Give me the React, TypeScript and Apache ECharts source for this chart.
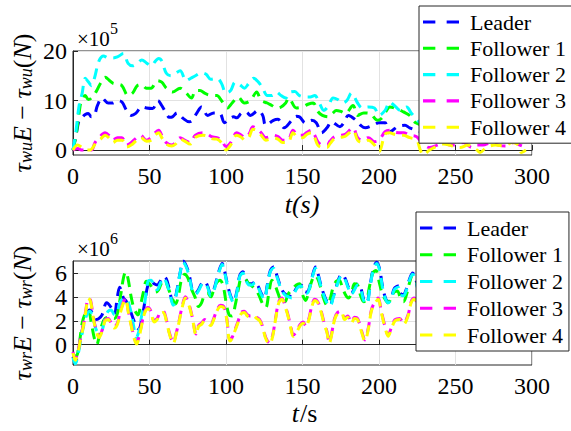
import React, { useEffect, useRef } from "react";
import * as echarts from "echarts";

const names = ["Leader", "Follower 1", "Follower 2", "Follower 3", "Follower 4"];
const colors = ["#0000ff", "#00ff00", "#00ffff", "#ff00ff", "#ffff00"];
const topYTicks = [0, 10, 20];
const botYTicks = [0, 2, 4, 6];

// Top panel (x10^5 N)
const topLeader = [[0,0],[2,3],[4,6],[6,6.6],[8,7.2],[10,7.4],[12,6.7],[14,7],[16,9],[19,10.5],[23,9.5],[26,9.5],[29,10],[32,9.7],[35,8],[38,7],[41,7.4],[45,8.7],[48,8.5],[52,8.4],[55.5,10],[58,9],[61,7.4],[63,6.6],[65,6.7],[68,7.5],[72,6.4],[76,5.7],[78,6],[81,7.5],[84,8.7],[88,7],[92,7.5],[96,7.4],[99,5.5],[102,6.2],[105,6.7],[107,6.5],[110,7.4],[113,7.7],[116,7],[121,8],[124,7],[126,5],[131,6],[134,6.2],[138,4.5],[143,6],[146,6.8],[148,6.7],[152,5.5],[156,6],[159,5.5],[162.5,3.5],[166,4.5],[169,5.7],[174.5,4.7],[177,5.5],[180,7],[185,6],[188,5],[191,4.5],[196,5],[200,5.5],[204,5.5],[206,3.5],[209,4],[212,4.7],[217,5],[220,4.5],[224.5,4],[230,3.5],[240,4],[250,3.5],[260,3],[270,3.5],[280,3],[290,3],[298,2.5]];
const topF1 = [[0,0],[2,3],[4,7.5],[5.5,10],[8,11],[10,10.2],[12,10.5],[15.5,12],[18,13.5],[21,14.7],[24,14],[26,13.5],[29,13.3],[32,13],[36,11],[39,11.5],[42,13],[45,13.2],[48,12.5],[51,12.5],[55,14],[58,13.7],[61,12.5],[65,11.7],[70,12.5],[74,11.5],[77.5,10.5],[80,12],[83,12],[86,11.5],[88,11.2],[91.5,11],[94,11],[97,10],[101,8.5],[104,9.5],[108,10.7],[112,9.5],[116,10],[120,11.7],[123,10],[127,9.5],[130,9],[133,8.5],[136,8.7],[139,9.5],[141,10.5],[146,8.5],[150,8.7],[154,9.3],[157,9.5],[160,7.8],[163,7],[167,6.7],[170,7.5],[172,8],[175,7.8],[178,7.4],[183,9],[186,7],[190,7.5],[194,7.4],[199,6],[202,6.5],[205,8],[207,8.7],[212,8.3],[216,7.7],[220,7],[224,5.5],[230,5],[240,5],[250,4.5],[260,5],[270,4],[280,4.5],[290,4],[298,3.5]];
const topF2 = [[0,0],[2,4],[4,9],[6,11.5],[8,14.5],[10,13.8],[12,13],[14,14.5],[17,18],[20,19],[23,18.6],[26,18.6],[29,18.8],[33,19.5],[36,17.5],[39,17],[42,17.5],[45,18.2],[48,17.6],[51,17],[54,18],[56,18.5],[58,18],[61,15.5],[64,15],[67,15.5],[70,16],[74,14],[77,14.5],[80,15],[84,15.6],[87,15.3],[90,14.3],[94,14.5],[97,13.5],[100,11.5],[103,12],[106,13.7],[109,13.2],[112,12.5],[115,13.5],[118,14.5],[121,13.8],[124,12.5],[127,11],[130,11],[133,11.7],[136,11],[139,10.5],[142,11.7],[145,11.8],[148,11],[152,10.7],[155,10.7],[158,11],[161,9.5],[164,8],[167,9],[170,10.5],[173,10.2],[176,9.5],[179,10],[182,11.5],[186,9.5],[189,8.5],[193,8.7],[197,8.5],[200,7],[204,8],[207,9.7],[210,9],[214,8],[218,8.7],[221,7.5],[224,6.4],[227,5.6],[235,6.5],[245,5.5],[255,6],[265,5],[275,5.5],[285,5],[295,4.5]];
const topF3 = [[0,0],[3,0.3],[6,0],[9,0],[12,0],[14.4,1.5],[17,2.5],[21,3.5],[24,2.8],[26,2],[29,2.5],[32,2.5],[35,1],[38,1.5],[41.6,2.5],[44,3],[48,2],[51,2.5],[53.6,3.5],[56,4],[58,3],[61,1.5],[64.5,1],[67,1.5],[70,2.5],[73,2],[76.5,1.5],[80,3],[85,3.5],[88,3.2],[90.6,2.7],[94,2.5],[97,2],[100,0.7],[103,1.5],[107,3.5],[110,3],[112.4,2.5],[115,3.2],[117.6,4.7],[120,4.3],[123,3.5],[126,2.5],[128.7,2.7],[131,3],[134,2.7],[137,2],[140.5,2],[143.8,4],[147,3],[150,3],[153,3.6],[156,4],[158,3],[160,1.7],[163,1],[166,1],[168,1.8],[171,2.7],[175.6,3],[178,3.2],[183,4.5],[186,2.5],[189,2],[193,2.5],[197,1.7],[200,2],[204,3.7],[207,4],[210,3.6],[213,3.5],[216,3.5],[220,3],[224.6,2.7],[228,1.5],[233,0.5],[238,1],[242,1.5],[246,1],[250,1],[255,1.5],[261,0.5],[264,1],[268,1],[273,1.5],[278,1],[283,0.8],[288,1.5],[292,1],[296,0.5]];
const topF4 = [[0,0],[3,1],[6,0.5],[9,0],[11,0],[15.5,1.7],[18,2.2],[21,3],[24,2.3],[26,1.5],[29,2],[32,2],[35,0.6],[38,1],[41.6,2],[44,2.6],[48,1.8],[51,2],[53.6,3],[56,3.5],[58,2.5],[61,1.2],[64.5,0.8],[67,1.2],[70,2.2],[73,1.8],[76.5,1.2],[80,2.6],[85,3],[88,2.8],[90.6,2.3],[94,2.2],[97,1.5],[100,0],[103,1],[107,3],[110,2.6],[112.4,2],[115,2.6],[117.6,4.2],[120,4],[123,3],[126,2],[128.7,2.2],[131,2.5],[134,2.2],[137,1.5],[140.5,1.5],[143.8,3.5],[147,2.5],[150,2.5],[153,3.2],[156,3.5],[158,2.5],[160,1],[163,0.5],[166,0.5],[168,1.3],[171,2.3],[175.6,2.6],[178,2.8],[183,4],[186,2],[189,1.5],[193,2],[197,1],[200,-0.3],[204,3.2],[207,3.5],[210,3.2],[213,3],[216,3],[220,2.5],[224.6,2],[227,0],[229,-1],[233,0],[238,0.8],[242,1.2],[246,1],[250,0.6],[253,0.5],[258,1],[264,0],[266,-0.5],[270,0.5],[276,1],[282,0.8],[287,1.5],[291,1],[293,-0.5],[296,0]];

// Bottom panel (x10^6 N)
const botLeader = [[0,-1],[1.5,-1.5],[3,-0.8],[5,0.5],[7,1.8],[9,2.6],[11,2.9],[13,2.6],[15,2.1],[17,2.2],[19,2.5],[22,3.5],[25,3.1],[27,2.6],[29,4],[30.5,4.8],[33,3.9],[35,3.6],[37,3],[39,2.3],[41.5,1.5],[43,1.3],[45,2.2],[47,3.6],[49,5],[51,5.3],[53,5.1],[55,5],[57,5.3],[59,5.7],[61,5.5],[63,4.6],[65.5,3.4],[68,4.6],[70,6],[72,7],[74,6.6],[76,5.8],[78,4.6],[80,4.3],[82,4.6],[84,5.1],[86,5.3],[88,4.9],[90,4.2],[92,4.6],[94,5.5],[96,6.4],[97.5,6.8],[99,6.2],[101,5],[103,4.1],[105,3.6],[107,4.4],[109,5.8],[111,6.1],[113,5.5],[115,5.1],[117,5.1],[119,5.3],[121,4.9],[123,4.3],[125,3.9],[127,5],[129,6.2],[131,6.5],[133,5.9],[135,5.1],[137,4.5],[139,4.2],[141,4.1],[143,4],[145,4.5],[147,4.9],[149,5],[151,4.5],[153,4.4],[155,5],[157,6],[158.5,6.5],[160,6],[162,5],[164,4.2],[166,3.6],[168,3.3],[170,4],[172,4.8],[174,5.6],[176,5.9],[178,5.5],[180,4.8],[182,4.3],[184,4.7],[186,5.1],[188,4.8],[190,3.8],[192,3.5],[194,4.8],[196,6.2],[198.5,6.9],[200.5,6.3],[202,5.1],[204,4],[206,3.6],[208,3.9],[210,4.7],[212.5,4.9],[214,4.3],[216,4.2],[218,4.7],[220,5.5],[222,6],[224,5.5],[226,4.5],[230,4.2],[240,5.5],[250,4.5],[260,5.5],[270,4.5],[280,5.5],[290,4.5],[300,5]];
const botF1 = [[0,-0.8],[2,-1],[4,0],[6,1.8],[8,2.6],[10,2.9],[12,1.8],[14,0.5],[15.5,0],[17,0.6],[19,1.7],[21,2.2],[24,2.3],[27,2.2],[29,2.6],[31,4],[33,5.6],[34.5,6.1],[36,5.5],[38,4],[40,3],[42.5,2.5],[44,3.2],[46,4.4],[48,5.3],[50,5.1],[52,4.7],[54,4.4],[56,4.6],[58,5.2],[60,5.4],[62,4.8],[64.5,4],[67,3.4],[69,4.2],[71,5.5],[73,5.9],[75,5.6],[77,4.8],[79.7,4],[82,3.2],[84,3.5],[86,4.2],[88,4.3],[90,4],[92,4.6],[94,5.2],[96,5.4],[98,5],[100,3.6],[102,2.5],[104,2.4],[106,3.3],[108,4.6],[110,5.5],[112,5.5],[115,5.1],[118,4.8],[120,4.5],[122,4],[124,3.4],[126,3.1],[128,4.3],[130,5.4],[132,5],[134,4.3],[136,3.7],[138.5,3.6],[140.5,4.2],[143,4.6],[146,5],[148,5.1],[150,4.2],[152,3.7],[154,4.4],[156,5.3],[158,5.8],[160,5.5],[162,4.7],[164,3.8],[166,3.3],[168,3.8],[170,4.8],[172,5.3],[174,5.4],[176,4.8],[178,4.2],[180,3.9],[182,4.3],[184,5.1],[186,5],[188,4.1],[190,3.6],[192,3.8],[194,5],[196,6],[198,6.2],[200,5.3],[202,4.3],[204,3.8],[206,3.5],[208,3.9],[210,4.4],[212,4.5],[214,3.9],[216,3.6],[218,4.2],[220,5.2],[222,5.8],[224,5.5],[226,4.8],[235,4],[245,5],[255,4],[265,5],[275,4],[285,5],[295,4.2],[300,4.5]];
const botF2 = [[0,-1.1],[1.5,-1.6],[3,-1],[5,0.3],[7,1.6],[9,2.5],[11,2.8],[13,2.3],[15,1.3],[17,1],[19,1.2],[21,2.2],[23,2.8],[25,2.9],[27,2.5],[29,2.8],[31,3.6],[33,3.8],[35,3.8],[37,3.2],[39,2],[41.5,0.6],[43,1.1],[45,2.5],[47,3.6],[49,5.3],[51,5.4],[53,4.9],[55,4.6],[57,5.1],[59,5.6],[61,5.2],[63,4.4],[65.5,3.3],[68,4.5],[70,6],[72,6.9],[74,6.5],[76,5.7],[78,4.5],[80,4.2],[82,4.5],[84,5],[86,5.2],[88,4.8],[90,4.1],[92,4.5],[94,5.4],[96,6.3],[97.5,6.7],[99,6.1],[101,4.9],[103,4],[105,3.5],[107,4.3],[109,5.7],[111,6],[113,5.4],[115,5],[117,5],[119,5.2],[121,4.8],[123,4.2],[125,3.8],[127,4.9],[129,6.1],[131,6.4],[133,5.8],[135,5],[137,4.4],[139,4.1],[141,4],[143,3.9],[145,4.4],[147,4.8],[149,4.9],[151,4.4],[153,4.3],[155,4.9],[157,5.9],[158.5,6.4],[160,5.9],[162,4.9],[164,4.1],[166,3.5],[168,3.2],[170,3.9],[172,4.7],[174,5.5],[176,5.8],[178,5.4],[180,4.7],[182,4.2],[184,4.6],[186,5],[188,4.7],[190,3.7],[192,3.4],[194,4.7],[196,6.1],[198.5,6.8],[200.5,6.2],[202,5],[204,3.9],[206,3.5],[208,3.8],[210,4.6],[212.5,4.8],[214,4.2],[216,4.1],[218,4.6],[220,5.4],[222,5.9],[224,5.4],[226,4.4],[230,4.1],[240,5.4],[250,4.4],[260,5.4],[270,4.4],[280,5.4],[290,4.4],[300,4.9]];
const botF3 = [[0,-0.6],[1.5,-1.2],[3,-0.7],[5,0.6],[7,1.8],[8.5,3],[10,3.9],[11.5,3.7],[13,2.5],[15,1.3],[17,0.7],[19,1.2],[21,2.1],[23,2.2],[25,1.8],[27,1.5],[29,1.8],[31,2.8],[33,3.6],[34.5,3.9],[36,2.9],[38,1.7],[40,0.6],[41.6,0.15],[43,0.6],[45,1.8],[47,2.8],[49,3.1],[51,2.8],[53,2],[55,2.2],[57,2.7],[59,2.8],[61,2.1],[63,1],[65.5,0.2],[67.5,1],[69,1.8],[71,3],[73.5,4],[76,3.3],[78,2.3],[80.5,0.9],[82,1.6],[84,1.8],[86,2.1],[88,1.9],[90,1.7],[92,2.2],[94,2.9],[96.5,3.3],[98.5,3.2],[100.5,2.2],[102.5,0.4],[104,0.6],[106,1.3],[108,2],[110,2.7],[112,2.8],[114,2.5],[116,2.4],[118,2.5],[120,2.3],[122,2.1],[124,1.5],[126,0.6],[128.5,0.15],[130.5,0.8],[132.5,2.3],[134.5,3.6],[136.5,3.9],[138.5,3.3],[140.5,2.5],[142.5,1.4],[144,0.8],[146,1.1],[148.5,1.7],[150.5,1.9],[152,1.6],[154,2.1],[156,3.2],[158,3.8],[160,3.6],[162,2.9],[164,1.9],[166,1.1],[167.5,0.2],[169,0.9],[171,2.2],[173,2.7],[175.5,2.8],[177.5,2.2],[179.5,2.4],[182,1.9],[184,2.3],[186,2.2],[188.5,1.2],[190.8,0.4],[193,1.4],[195,2.9],[197,3.5],[199.5,3.9],[201.5,2.8],[204,1.5],[206,0.8],[208,1.4],[210.5,2.1],[213.5,2.2],[216,1.8],[219,2.5],[221,3.6],[223,3.9],[225,3.5],[230,2],[235,1],[240,2.5],[245,3.5],[250,2],[255,1],[260,2.5],[265,3.5],[270,2],[275,1],[280,2.5],[285,3.5],[290,2],[295,1.5],[300,2]];
const botF4 = [[0,-0.7],[1.5,-1.3],[3,-0.8],[5,0.5],[7,1.7],[8.5,2.9],[10,3.9],[11.5,3.6],[13,2.4],[15,1.2],[17,0.6],[19,1.1],[21,2],[23,2.1],[25,1.7],[27,1.4],[29,1.7],[31,2.7],[33,3.5],[34.5,3.8],[36,2.8],[38,1.6],[40,0.5],[41.6,0.05],[43,0.5],[45,1.7],[47,2.7],[49,3],[51,2.7],[53,1.9],[55,2.1],[57,2.6],[59,2.7],[61,2],[63,0.9],[65.5,0.1],[67.5,0.9],[69,1.7],[71,2.9],[73.5,3.9],[76,3.2],[78,2.2],[80.5,0.8],[82,1.5],[84,1.7],[86,2],[88,1.8],[90,1.6],[92,2.1],[94,2.8],[96.5,3.2],[98.5,3.1],[100.5,2.1],[102.5,0.3],[104,0.5],[106,1.2],[108,1.9],[110,2.6],[112,2.7],[114,2.4],[116,2.3],[118,2.4],[120,2.2],[122,2],[124,1.4],[126,0.5],[128.5,0.05],[130.5,0.7],[132.5,2.2],[134.5,3.5],[136.5,3.8],[138.5,3.2],[140.5,2.4],[142.5,1.3],[144,0.7],[146,1],[148.5,1.6],[150.5,1.8],[152,1.5],[154,2],[156,3.1],[158,3.7],[160,3.5],[162,2.8],[164,1.8],[166,1],[167.5,0.1],[169,0.8],[171,2.1],[173,2.6],[175.5,2.7],[177.5,2.1],[179.5,2.3],[182,1.8],[184,2.2],[186,2.1],[188.5,1.1],[190.8,0.3],[193,1.3],[195,2.8],[197,3.4],[199.5,3.8],[201.5,2.7],[204,1.4],[206,0.7],[208,1.3],[210.5,2],[213.5,2.1],[216,1.7],[219,2.4],[221,3.5],[223,3.8],[225,3.4],[230,1.9],[235,0.9],[240,2.4],[245,3.4],[250,1.9],[255,0.9],[260,2.4],[265,3.4],[270,1.9],[275,0.9],[280,2.4],[285,3.4],[290,1.9],[295,1.4],[300,1.9]];

const topData = [topLeader, topF1, topF2, topF3, topF4];
const botData = [botLeader, botF1, botF2, botF3, botF4];

const SERIF = "Liberation Serif";
const AX = "#262626";
const GRIDC = "#e2e2e2";
const DASH_ICON = "path://M0,0h12v3h-12z M23,0h12v3h-12z";
const FORCE_SERIF_CSS =
  "#chart-root svg text, #chart-root svg tspan { font-family: 'Liberation Serif', 'Times New Roman', serif !important; }";

function panelOption(data: number[][][], yMin: number, yMax: number, ticks: number[], splitNumber: number,
  legendTop: number, legendLeft: number, legendGap: number, expo: string, yLabelSub: string, xLabel: any[]) {
  const series = data.map((d, k) => ({
    name: names[k], type: "line", data: d, symbol: "none", showSymbol: false, smooth: 0.35,
    lineStyle: { color: colors[k], width: 3, type: [11, 7] }, itemStyle: { color: colors[k] },
  }));
  return {
    animation: false,
    grid: { left: 73, top: 51, width: 459, height: 104, show: true, borderColor: AX, borderWidth: 1 },
    xAxis: {
      type: "value", min: 0, max: 300, interval: 50,
      axisLine: { show: true, lineStyle: { color: AX } },
      axisTick: { show: true, inside: true, length: 5, lineStyle: { color: AX } },
      axisLabel: { fontFamily: SERIF, fontSize: 24, color: "#000", margin: 9 },
      splitLine: { show: true, lineStyle: { color: GRIDC } },
    },
    yAxis: {
      type: "value", min: yMin, max: yMax, splitNumber,
      axisLine: { show: true, lineStyle: { color: AX } },
      axisTick: { show: true, inside: true, length: 5, lineStyle: { color: AX }, customValues: ticks },
      axisLabel: { fontFamily: SERIF, fontSize: 24, color: "#000", margin: 6, customValues: ticks,
        formatter: (v: number) => (ticks.indexOf(v) >= 0 ? String(v) : "") },
      splitLine: { show: true, lineStyle: { color: GRIDC } },
    },
    legend: {
      data: names.map((n) => ({ name: n, icon: DASH_ICON })),
      orient: "vertical", left: legendLeft, top: legendTop,
      itemWidth: 36, itemHeight: 14, itemGap: legendGap, padding: [5, 6, 5, 4],
      backgroundColor: "#fff", borderColor: AX, borderWidth: 1,
      textStyle: { fontFamily: SERIF, fontSize: 22, lineHeight: 22, color: "#000", padding: [0, 0, 0, 6] },
    },
    series,
    graphic: [
      { type: "text", x: 77, y: 39, style: { text: "×10", fontFamily: SERIF, fontSize: 21, fill: "#000", align: "left", verticalAlign: "middle" } },
      { type: "text", x: 110, y: 28, style: { text: expo, fontFamily: SERIF, fontSize: 16, fill: "#000", align: "left", verticalAlign: "middle" } },
      { type: "text", x: 22, y: 103, rotation: Math.PI / 2,
        style: {
          text: "{i|τ}{s|" + yLabelSub + "}{i|E}{n| − }{i|τ}{s|" + yLabelSub + "}{n|(}{i|N}{n|)}",
          rich: {
            i: { fontFamily: SERIF, fontStyle: "italic", fontSize: 26, fill: "#000" },
            s: { fontFamily: SERIF, fontStyle: "italic", fontSize: 18, fill: "#000", verticalAlign: "bottom", lineHeight: 14 },
            n: { fontFamily: SERIF, fontSize: 26, fill: "#000" },
          },
          fontFamily: SERIF, fontSize: 26, align: "center", verticalAlign: "middle",
        } },
      ...xLabel,
    ],
  };
}

function Panel({ opt, top, height }: { opt: any; top: number; height: number }) {
  const ref = useRef<HTMLDivElement>(null);
  useEffect(() => {
    if (!ref.current) return;
    const chart = echarts.init(ref.current, undefined, { renderer: "svg" });
    chart.setOption(opt);
    return () => chart.dispose();
  }, []);
  return <div ref={ref} style={{ position: "absolute", left: 0, top, width: 571, height }} />;
}

export default function App() {
  const topOpt = panelOption(topData, -1, 20, topYTicks, 2, 6, 419, 4.3, "5", "wu", [
    { type: "text", x: 302, y: 204, style: { text: "t(s)", fontFamily: SERIF, fontStyle: "italic", fontSize: 26, fill: "#000", align: "center", verticalAlign: "middle" } },
  ]);
  const botOpt = panelOption(botData, -1.7, 7, botYTicks, 4, 2, 416, 4.75, "6", "wr", [
    { type: "text", x: 299, y: 203, style: { text: "t", fontFamily: SERIF, fontStyle: "italic", fontSize: 26, fill: "#000", align: "right", verticalAlign: "middle" } },
    { type: "text", x: 300, y: 203, style: { text: "/s", fontFamily: SERIF, fontSize: 26, fill: "#000", align: "left", verticalAlign: "middle" } },
  ]);
  return (
    <div id="chart-root" style={{ position: "fixed", left: 0, top: 0, width: 571, height: 431, background: "#fff" }}>
      <style>{FORCE_SERIF_CSS}</style>
      <Panel opt={topOpt} top={0} height={218} />
      <Panel opt={botOpt} top={210} height={221} />
    </div>
  );
}
